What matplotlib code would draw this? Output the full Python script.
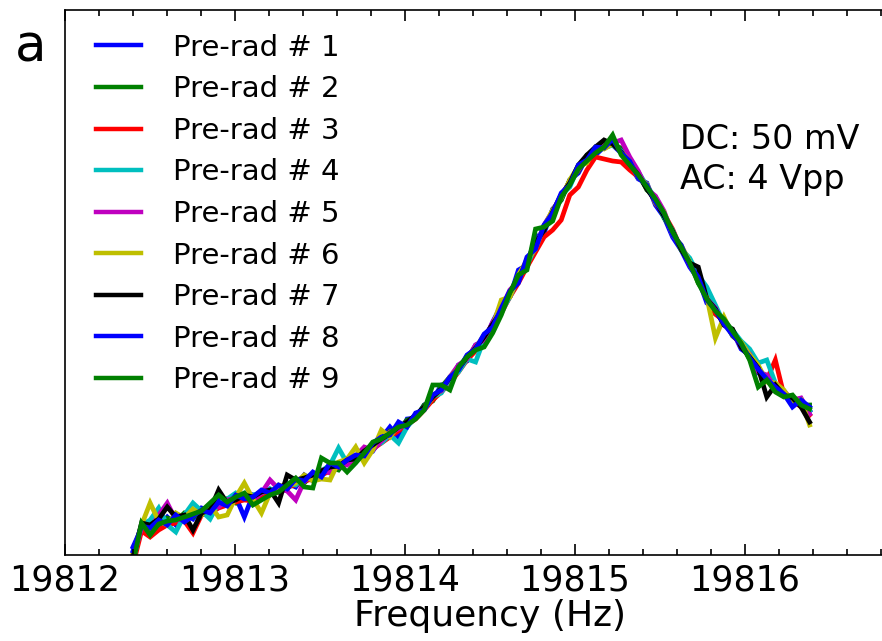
import numpy as np
import matplotlib
matplotlib.use("Agg")
import matplotlib.pyplot as plt
from matplotlib.ticker import MultipleLocator, FixedLocator, FormatStrFormatter

# Frequency sweep (Hz)
freq = np.linspace(19812.40, 19816.38, 80)
major_ticks = [19812, 19813, 19814, 19815, 19816]

# Response amplitude (arbitrary units) for each pre-radiation sweep
pre_rad_1 = [8, 27, 34, 28, 38, 30, 41, 36, 47, 44,
             55, 50, 58, 38, 60, 57, 66, 63, 72, 68,
             80, 74, 83, 90, 86, 96, 93, 106, 104, 117,
             128, 118, 136, 137, 150, 155, 170, 172, 190, 194,
             210, 214, 233, 250, 258, 285, 290, 318, 322, 346,
             355, 375, 382, 398, 400, 408, 410, 402, 390, 376,
             372, 350, 338, 318, 305, 288, 276, 252, 246, 230,
             224, 206, 200, 182, 178, 166, 163, 150, 156, 144]
pre_rad_2 = [-3, 26, 33, 29, 37, 34, 42, 38, 45, 49,
             48, 56, 52, 61, 57, 64, 60, 69, 66, 75,
             72, 81, 79, 88, 85, 96, 95, 101, 110, 113,
             124, 125, 135, 137, 150, 154, 168, 178, 185, 199,
             205, 220, 228, 248, 258, 280, 290, 312, 325, 345,
             355, 375, 384, 400, 403, 412, 410, 407, 389, 382,
             365, 358, 337, 325, 305, 295, 272, 259, 241, 235,
             219, 212, 196, 188, 174, 171, 159, 158, 150, 150]
pre_rad_3 = [-10, 24, 18, 25, 30, 32, 34, 22, 40, 42,
             47, 50, 53, 55, 54, 58, 61, 63, 68, 70,
             74, 76, 80, 84, 88, 91, 95, 100, 106, 112,
             118, 124, 130, 136, 145, 155, 163, 172, 183, 195,
             204, 214, 226, 242, 258, 272, 288, 303, 318, 325,
             335, 360, 368, 385, 398, 396, 394, 393, 385, 378,
             370, 352, 341, 326, 306, 296, 274, 260, 241, 234,
             220, 211, 197, 186, 175, 195, 160, 155, 148, 140]
pre_rad_4 = [-6, 30, 35, 47, 30, 23, 40, 52, 44, 36,
             52, 56, 62, 57, 60, 62, 66, 64, 72, 70,
             78, 80, 84, 90, 107, 92, 98, 101, 110, 112,
             120, 112, 128, 138, 146, 158, 162, 176, 183, 196,
             193, 216, 231, 243, 258, 277, 290, 308, 330, 340,
             360, 368, 388, 395, 406, 407, 410, 404, 393, 383,
             369, 357, 338, 325, 306, 297, 280, 268, 250, 232,
             225, 214, 206, 192, 195, 172, 160, 154, 150, 144]
pre_rad_5 = [-4, 28, 26, 40, 52, 35, 36, 44, 41, 50,
             48, 55, 57, 60, 55, 62, 75, 66, 64, 55,
             74, 79, 85, 82, 92, 90, 99, 108, 105, 114,
             123, 126, 133, 137, 148, 160, 164, 178, 190, 196,
             210, 215, 233, 246, 265, 274, 296, 308, 330, 344,
             360, 373, 385, 398, 404, 410, 412, 415, 398, 384,
             366, 359, 344, 321, 309, 290, 277, 256, 247, 230,
             224, 208, 201, 183, 180, 167, 164, 155, 157, 141]
pre_rad_6 = [2, 30, 52, 34, 30, 42, 37, 46, 40, 50,
             38, 40, 58, 72, 56, 42, 62, 70, 68, 72,
             80, 74, 76, 75, 93, 96, 108, 92, 105, 125,
             118, 130, 129, 140, 146, 158, 165, 178, 186, 198,
             207, 220, 229, 255, 258, 280, 295, 306, 329, 345,
             357, 375, 389, 392, 408, 406, 411, 403, 394, 377,
             371, 352, 343, 320, 310, 293, 273, 258, 217, 238,
             220, 213, 200, 190, 173, 172, 165, 152, 155, 130]
pre_rad_7 = [-2, 32, 30, 36, 48, 38, 40, 25, 42, 45,
             65, 52, 55, 60, 58, 63, 65, 52, 80, 75,
             77, 80, 84, 88, 89, 95, 96, 104, 110, 116,
             121, 128, 133, 140, 148, 158, 166, 177, 186, 198,
             207, 218, 231, 244, 263, 276, 294, 312, 325, 343,
             360, 372, 390, 400, 408, 415, 411, 403, 391, 380,
             366, 354, 339, 324, 306, 292, 288, 256, 246, 230,
             226, 208, 198, 187, 158, 170, 160, 157, 148, 133]
pre_rad_8 = [4, 29, 27, 35, 30, 40, 33, 39, 45, 42,
             53, 49, 60, 56, 58, 65, 62, 70, 66, 76,
             74, 83, 78, 92, 88, 95, 100, 99, 112, 118,
             120, 133, 128, 142, 145, 160, 165, 178, 185, 200,
             206, 221, 228, 247, 264, 272, 298, 306, 330, 342,
             362, 370, 390, 395, 408, 407, 416, 402, 394, 377,
             370, 353, 342, 320, 310, 290, 278, 255, 245, 231,
             220, 211, 197, 186, 176, 168, 161, 148, 155, 148]
pre_rad_9 = [-8, 32, 20, 31, 34, 35, 38, 41, 44, 52,
             60, 53, 58, 62, 50, 55, 60, 63, 70, 77,
             68, 67, 97, 92, 92, 83, 92, 102, 113, 116,
             122, 128, 130, 136, 145, 170, 170, 165, 188, 198,
             205, 208, 222, 240, 262, 280, 285, 326, 328, 334,
             358, 370, 386, 394, 402, 408, 420, 400, 390, 380,
             368, 356, 342, 323, 308, 292, 272, 256, 244, 236,
             224, 212, 195, 168, 175, 163, 158, 160, 150, 146]

series = [pre_rad_1, pre_rad_2, pre_rad_3, pre_rad_4, pre_rad_5,
          pre_rad_6, pre_rad_7, pre_rad_8, pre_rad_9]
labels = ["Pre-rad # %d" % (i + 1) for i in range(9)]
colors = ["b", "g", "r", "c", "m", "y", "k", "b", "g"]

plt.style.use("classic")
W, H = 882, 641
fig = plt.figure(figsize=(W / 100, H / 100), dpi=100, facecolor="white")
ax = fig.add_axes([65 / W, 86 / H, 850 / W, 545 / H])

for y, c, lab in zip(series, colors, labels):
    ax.plot(freq, y, color=c, lw=3.4, label=lab, solid_joinstyle="miter")

ax.set_xlim(19812, 19817)
ax.set_ylim(0, 545)
ax.xaxis.set_major_locator(FixedLocator(major_ticks))
ax.xaxis.set_minor_locator(MultipleLocator(0.2))
ax.xaxis.set_major_formatter(FormatStrFormatter("%d"))
ax.tick_params(axis="x", which="major", direction="in", length=8, width=1.2,
               top=True, bottom=True, labelsize=25, pad=6)
ax.tick_params(axis="x", which="minor", direction="in", length=4, width=1.2,
               top=True, bottom=True)
ax.tick_params(axis="y", which="both", left=False, right=False,
               labelleft=False, labelright=False)
for s in ax.spines.values():
    s.set_linewidth(1.2)
ax.set_xlabel("Frequency (Hz)", fontsize=26, labelpad=1)

leg = ax.legend(loc="upper left", bbox_to_anchor=(0.036, 0.9565), frameon=False,
                fontsize=21, handlelength=1.55, handletextpad=1.1,
                labelspacing=0.465, borderpad=0, borderaxespad=0, numpoints=1)
for h in leg.get_lines():
    h.set_linewidth(3.2)

fig.text(680 / W, 1 - 149 / H, "DC: 50 mV", fontsize=24, ha="left", va="baseline")
fig.text(680 / W, 1 - 189 / H, "AC: 4 Vpp", fontsize=24, ha="left", va="baseline")
fig.text(15 / W, 1 - 62 / H, "a", fontsize=37, ha="left", va="baseline")

fig.savefig("out.png", dpi=100, facecolor="white")
